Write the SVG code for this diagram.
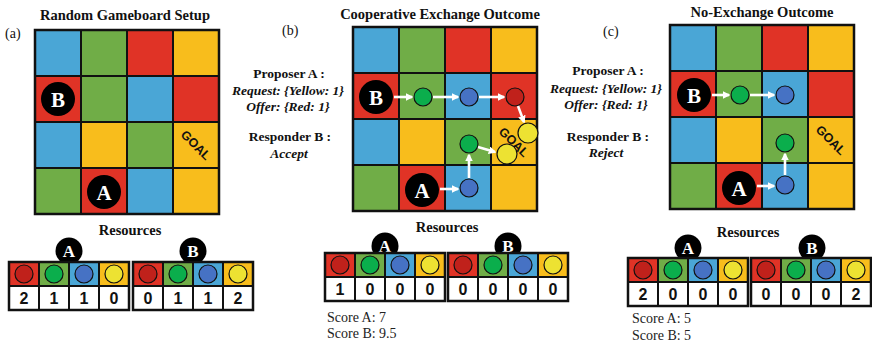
<svg xmlns="http://www.w3.org/2000/svg" xmlns:xlink="http://www.w3.org/1999/xlink" width="872" height="345" viewBox="0 0 872 345">
  <style>
    .bl { fill: #4aa6d6; }
    .gr { fill: #70ad47; }
    .rd { fill: #e03326; }
    .ye { fill: #f8bd1c; }
    .cell { stroke: #111; stroke-width: 2; }
    .tk { stroke: #111; stroke-width: 1.2; }
    .tk-g { fill: #0bae4c; }
    .tk-b { fill: #4672c4; }
    .tk-r { fill: #c0211b; }
    .tk-y { fill: #ede232; }
    .agent { fill: #000; }
    .serif { font-family: "Liberation Serif", "Times New Roman", "DejaVu Serif", serif; }
    .agent-t { font-size: 21px; font-weight: 700; fill: #fff; text-anchor: middle; }
    .badge-t { font-size: 17px; font-weight: 700; fill: #fff; text-anchor: middle; }
    .title { font-size: 14.5px; font-weight: 700; fill: #111; text-anchor: middle; }
    .plabel { font-size: 14px; fill: #111; }
    .pb { font-size: 13.5px; font-weight: 700; fill: #111; text-anchor: middle; }
    .pi { font-size: 13.5px; font-weight: 700; font-style: italic; fill: #111; text-anchor: middle; }
    .sans { font-family: "Liberation Sans", Arial, sans-serif; font-weight: 700; }
    .goal { font-size: 12.5px; fill: #111; text-anchor: middle; }
    .num { font-size: 16px; fill: #111; text-anchor: middle; }
    .score { font-size: 14px; fill: #222; }
    .arrow { stroke: #fff; stroke-width: 2.6; fill: none; marker-end: url(#ah); }
  </style>
  <defs>
    <marker id="ah" viewBox="0 0 10 10" refX="8" refY="5" markerWidth="3" markerHeight="3" orient="auto" markerUnits="strokeWidth">
      <path d="M0,0 L10,5 L0,10 z" fill="#fff"/>
    </marker>
    <!-- 4x4 coloured game board, 46px cells -->
    <g id="board">
      <rect class="cell bl" x="0" y="0" width="46" height="46"/>
      <rect class="cell gr" x="46" y="0" width="46" height="46"/>
      <rect class="cell rd" x="92" y="0" width="46" height="46"/>
      <rect class="cell ye" x="138" y="0" width="46" height="46"/>
      <rect class="cell rd" x="0" y="46" width="46" height="46"/>
      <rect class="cell gr" x="46" y="46" width="46" height="46"/>
      <rect class="cell bl" x="92" y="46" width="46" height="46"/>
      <rect class="cell rd" x="138" y="46" width="46" height="46"/>
      <rect class="cell bl" x="0" y="92" width="46" height="46"/>
      <rect class="cell ye" x="46" y="92" width="46" height="46"/>
      <rect class="cell gr" x="92" y="92" width="46" height="46"/>
      <rect class="cell ye" x="138" y="92" width="46" height="46"/>
      <rect class="cell gr" x="0" y="138" width="46" height="46"/>
      <rect class="cell rd" x="46" y="138" width="46" height="46"/>
      <rect class="cell bl" x="92" y="138" width="46" height="46"/>
      <rect class="cell ye" x="138" y="138" width="46" height="46"/>
      <rect x="0" y="0" width="184" height="184" fill="none" stroke="#111" stroke-width="2.5"/>
      <text class="sans goal" transform="translate(161,115) rotate(45)" y="4.5">GOAL</text>
    </g>
    <!-- resource table: coloured chip row above a white count row -->
    <g id="rtable">
      <rect class="rd" x="0" y="0" width="30" height="24"/>
      <rect class="gr" x="30" y="0" width="30" height="24"/>
      <rect class="bl" x="60" y="0" width="30" height="24"/>
      <rect class="ye" x="90" y="0" width="30" height="24"/>
      <rect x="0" y="24" width="120" height="24" fill="#fff"/>
      <circle class="tk tk-r" cx="15" cy="12" r="9"/>
      <circle class="tk tk-g" cx="45" cy="12" r="9"/>
      <circle class="tk tk-b" cx="75" cy="12" r="9"/>
      <circle class="tk tk-y" cx="105" cy="12" r="9"/>
      <path d="M30,0 V48 M60,0 V48 M90,0 V48 M0,24 H120" stroke="#111" stroke-width="2"/>
      <rect x="0" y="0" width="120" height="48" fill="none" stroke="#111" stroke-width="2.5"/>
    </g>
  </defs>

  <!-- ===== (a) Random gameboard setup ===== -->
  <g id="panel-a-label"><text class="serif plabel" x="5" y="38">(a)</text></g>
  <g id="title-a"><text class="serif title" x="125" y="19.5">Random Gameboard Setup</text></g>
  <g id="board-a"><use xlink:href="#board" x="35" y="30"/></g>
  <g id="agent-a-B"><circle class="agent" cx="58" cy="99" r="17"/><text class="serif agent-t" x="58" y="106.5">B</text></g>
  <g id="agent-a-A"><circle class="agent" cx="104" cy="192" r="17"/><text class="serif agent-t" x="104" y="199.5">A</text></g>

  <g id="resources-a">
    <text class="serif title" x="130" y="235">Resources</text>
    <circle class="agent" cx="69" cy="251" r="13.5"/><text class="serif badge-t" x="69" y="257">A</text>
    <circle class="agent" cx="193" cy="251" r="13.5"/><text class="serif badge-t" x="193" y="257">B</text>
  </g>
  <g id="table-a-A">
    <use xlink:href="#rtable" x="9" y="262"/>
    <text class="sans num" x="24" y="304">2</text><text class="sans num" x="54" y="304">1</text><text class="sans num" x="84" y="304">1</text><text class="sans num" x="114" y="304">0</text>
  </g>
  <g id="table-a-B">
    <use xlink:href="#rtable" x="133" y="262"/>
    <text class="sans num" x="148" y="304">0</text><text class="sans num" x="178" y="304">1</text><text class="sans num" x="208" y="304">1</text><text class="sans num" x="238" y="304">2</text>
  </g>

  <!-- ===== (b) Cooperative exchange outcome ===== -->
  <g id="panel-b-label"><text class="serif plabel" x="282" y="35">(b)</text></g>
  <g id="title-b"><text class="serif title" x="440" y="19">Cooperative Exchange Outcome</text></g>
  <g id="proposal-b">
    <text class="serif pb" x="289" y="78">Proposer A :</text>
    <text class="serif pi" x="288" y="95">Request: {Yellow: 1}</text>
    <text class="serif pi" x="288" y="111">Offer: {Red: 1}</text>
    <text class="serif pb" x="290" y="141">Responder B :</text>
    <text class="serif pi" x="289" y="158">Accept</text>
  </g>
  <g id="board-b"><use xlink:href="#board" x="353" y="27"/></g>
  <g id="agent-b-B"><circle class="agent" cx="376" cy="97" r="17"/><text class="serif agent-t" x="376" y="104.5">B</text></g>
  <g id="agent-b-A"><circle class="agent" cx="422" cy="190" r="17"/><text class="serif agent-t" x="422" y="197.5">A</text></g>
  <g id="tokens-b">
    <circle class="tk tk-g" cx="423" cy="97" r="9"/>
    <circle class="tk tk-b" cx="469" cy="97" r="9"/>
    <circle class="tk tk-r" cx="515" cy="97" r="9"/>
    <circle class="tk tk-y" cx="528" cy="133" r="10"/>
    <circle class="tk tk-g" cx="469" cy="144" r="9"/>
    <circle class="tk tk-y" cx="507" cy="154" r="10"/>
    <circle class="tk tk-b" cx="469" cy="188" r="9"/>
  </g>

  <g id="resources-b">
    <text class="serif title" x="447" y="232">Resources</text>
    <circle class="agent" cx="385" cy="246" r="13.5"/><text class="serif badge-t" x="385" y="252">A</text>
    <circle class="agent" cx="508" cy="246" r="13.5"/><text class="serif badge-t" x="508" y="252">B</text>
  </g>
  <g id="table-b-A">
    <use xlink:href="#rtable" x="325" y="253"/>
    <text class="sans num" x="340" y="295">1</text><text class="sans num" x="370" y="295">0</text><text class="sans num" x="400" y="295">0</text><text class="sans num" x="430" y="295">0</text>
  </g>
  <g id="table-b-B">
    <use xlink:href="#rtable" x="448" y="253"/>
    <text class="sans num" x="463" y="295">0</text><text class="sans num" x="493" y="295">0</text><text class="sans num" x="523" y="295">0</text><text class="sans num" x="553" y="295">0</text>
  </g>
  <g id="scores-b">
    <text class="serif score" x="327" y="322">Score A: 7</text>
    <text class="serif score" x="327" y="338">Score B: 9.5</text>
  </g>

  <!-- ===== (c) No-exchange outcome ===== -->
  <g id="panel-c-label"><text class="serif plabel" x="603" y="36">(c)</text></g>
  <g id="title-c"><text class="serif title" x="762" y="17">No-Exchange Outcome</text></g>
  <g id="proposal-c">
    <text class="serif pb" x="608" y="75">Proposer A :</text>
    <text class="serif pi" x="606" y="93">Request: {Yellow: 1}</text>
    <text class="serif pi" x="606" y="109">Offer: {Red: 1}</text>
    <text class="serif pb" x="608" y="141">Responder B :</text>
    <text class="serif pi" x="606" y="157">Reject</text>
  </g>
  <g id="board-c"><use xlink:href="#board" x="670" y="25"/></g>
  <g id="agent-c-B"><circle class="agent" cx="694" cy="95" r="17"/><text class="serif agent-t" x="694" y="102.5">B</text></g>
  <g id="agent-c-A"><circle class="agent" cx="739" cy="188" r="17"/><text class="serif agent-t" x="739" y="195.5">A</text></g>
  <g id="tokens-c">
    <circle class="tk tk-g" cx="740" cy="95" r="9"/>
    <circle class="tk tk-b" cx="785" cy="95" r="9"/>
    <circle class="tk tk-g" cx="785" cy="143" r="9"/>
    <circle class="tk tk-b" cx="785" cy="185" r="9"/>
  </g>

  <g id="resources-c">
    <text class="serif title" x="748" y="237">Resources</text>
    <circle class="agent" cx="688" cy="248" r="13.5"/><text class="serif badge-t" x="688" y="254">A</text>
    <circle class="agent" cx="812" cy="248" r="13.5"/><text class="serif badge-t" x="812" y="254">B</text>
  </g>
  <g id="table-c-A">
    <use xlink:href="#rtable" x="628" y="258"/>
    <text class="sans num" x="643" y="300">2</text><text class="sans num" x="673" y="300">0</text><text class="sans num" x="703" y="300">0</text><text class="sans num" x="733" y="300">0</text>
  </g>
  <g id="table-c-B">
    <use xlink:href="#rtable" x="751" y="258"/>
    <text class="sans num" x="766" y="300">0</text><text class="sans num" x="796" y="300">0</text><text class="sans num" x="826" y="300">0</text><text class="sans num" x="856" y="300">2</text>
  </g>
  <g id="scores-c">
    <text class="serif score" x="632" y="323">Score A: 5</text>
    <text class="serif score" x="632" y="340">Score B: 5</text>
  </g>

  <!-- movement connectors -->
  <g id="connectors">
    <path class="arrow" d="M394,97 H412"/>
    <path class="arrow" d="M433,97 H458"/>
    <path class="arrow" d="M479,97 H504"/>
    <path class="arrow" d="M518,106 L524,122"/>
    <path class="arrow" d="M440,189 H458"/>
    <path class="arrow" d="M469,178 V155"/>
    <path class="arrow" d="M478,147 L495,152"/>
    <path class="arrow" d="M712,95 H729"/>
    <path class="arrow" d="M750,95 H774"/>
    <path class="arrow" d="M757,186 H774"/>
    <path class="arrow" d="M785,175 V154"/>
  </g>
</svg>
